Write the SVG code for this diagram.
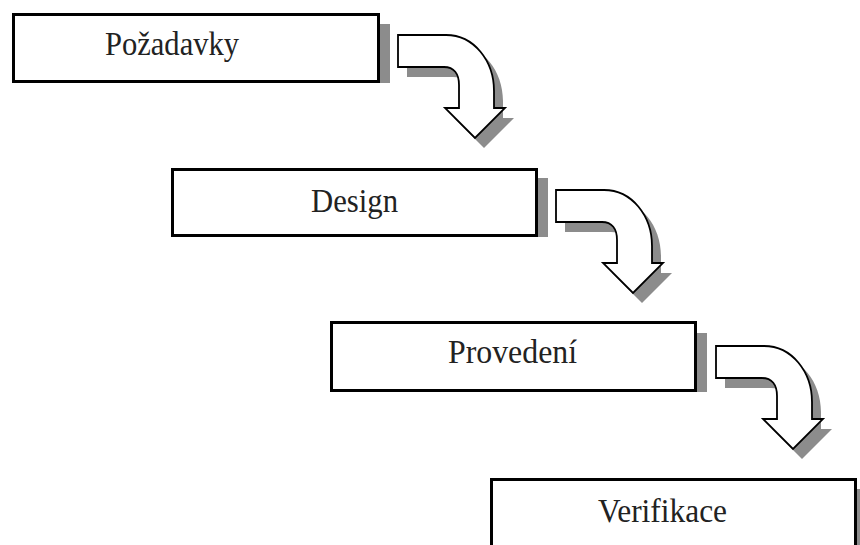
<svg xmlns="http://www.w3.org/2000/svg" width="860" height="545" viewBox="0 0 860 545">
<style>
.box{fill:#fff;stroke:#000;stroke-width:3}
.sh{fill:#8c8c8c}
.lbl{font-family:"Liberation Serif","Times New Roman",serif;font-size:33px;fill:#222}
.arr{fill:#fff;stroke:#000;stroke-width:1.8;stroke-linejoin:miter}
</style>
<defs>
<path id="ar" d="M0,0 H48 C76,0 96,26 96,56 V73 H107 L77,103 L47,73 H61 V50 C61,39 56,32 46,32 H0 Z"/>
</defs>
<rect width="860" height="545" fill="#fff"/>
<g id="connectors">
<g transform="translate(398,35)"><use href="#ar" class="sh" transform="translate(9,10)"/><use href="#ar" class="arr"/></g>
<g transform="translate(556,190)"><use href="#ar" class="sh" transform="translate(9,10)"/><use href="#ar" class="arr"/></g>
<g transform="translate(716,346)"><use href="#ar" class="sh" transform="translate(9,10)"/><use href="#ar" class="arr"/></g>
</g>
<g id="pozadavky">
<rect class="sh" x="380" y="24" width="10" height="59"/>
<rect class="box" x="13.5" y="14.5" width="365" height="67"/>
<text class="lbl" x="105" y="55" textLength="134" lengthAdjust="spacingAndGlyphs">Požadavky</text>
</g>
<g id="design">
<rect class="sh" x="538" y="178" width="10" height="59"/>
<rect class="box" x="172.5" y="169.5" width="364" height="66"/>
<text class="lbl" x="311" y="212" textLength="87" lengthAdjust="spacingAndGlyphs">Design</text>
</g>
<g id="provedeni">
<rect class="sh" x="697" y="333" width="10" height="59"/>
<rect class="box" x="331.5" y="322.5" width="364" height="68"/>
<text class="lbl" x="448" y="363" textLength="129" lengthAdjust="spacingAndGlyphs">Provedení</text>
</g>
<g id="verifikace">
<rect class="sh" x="857" y="489" width="10" height="60"/>
<rect class="box" x="491.5" y="479.5" width="364" height="100"/>
<text class="lbl" x="598" y="522" textLength="129" lengthAdjust="spacingAndGlyphs">Verifikace</text>
</g>
</svg>
